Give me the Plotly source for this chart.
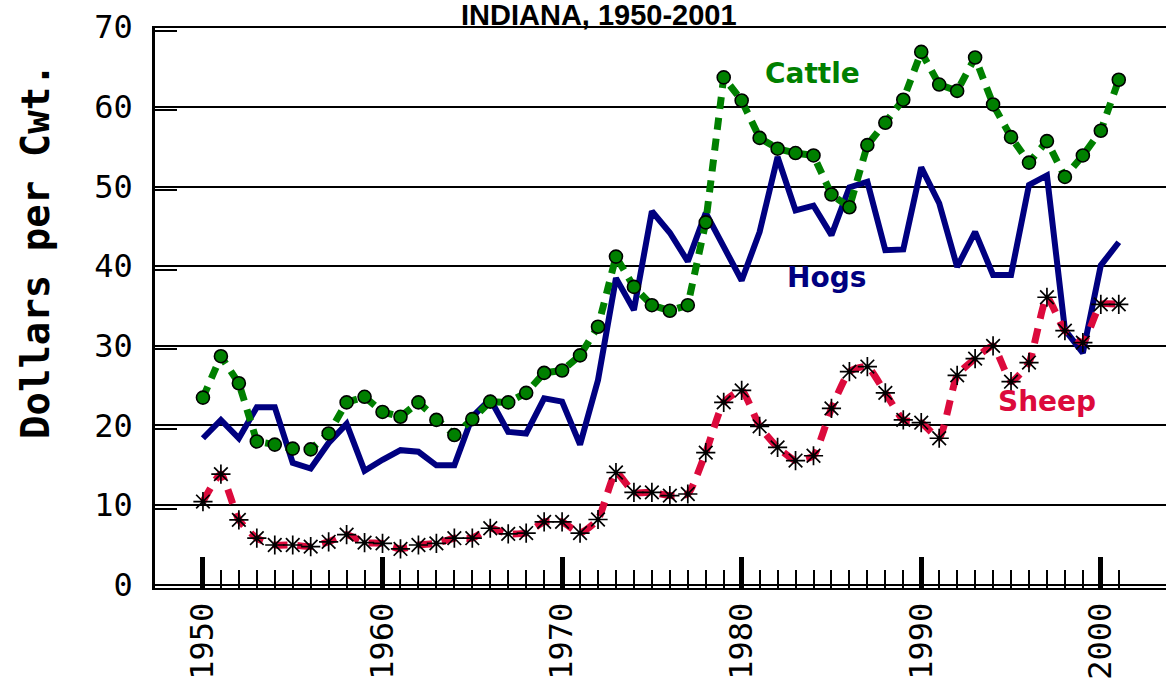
import plotly.graph_objects as go

years = list(range(1950, 2002))

cattle = [23.5, 28.7, 25.3, 18.0, 17.6, 17.1, 17.0, 19.0, 22.9, 23.6,
          21.7, 21.1, 22.9, 20.7, 18.8, 20.8, 23.0, 22.9, 24.1, 26.6,
          26.9, 28.8, 32.4, 41.2, 37.4, 35.1, 34.4, 35.1, 45.5, 63.7,
          60.8, 56.1, 54.75, 54.2, 53.9, 49.0, 47.4, 55.2, 58.0, 60.9,
          66.9, 62.8, 62.0, 66.2, 60.3, 56.2, 53.0, 55.7, 51.2, 53.9,
          57.0, 63.4]

hogs = [18.4, 20.7, 18.4, 22.3, 22.3, 15.3, 14.6, 17.8, 20.2, 14.3,
        15.7, 16.9, 16.7, 15.0, 15.0, 21.1, 23.3, 19.2, 19.0, 23.4,
        23.0, 17.6, 25.7, 38.5, 34.5, 46.9, 44.2, 40.6, 46.7, 42.4,
        38.2, 44.3, 53.7, 47.0, 47.6, 43.9, 49.9, 50.6, 42.0, 42.1,
        52.4, 47.9, 39.9, 44.3, 38.9, 38.9, 50.2, 51.4, 32.0, 29.1,
        40.1, 43.0]

sheep = [10.45, 13.9, 8.15, 5.85, 5.0, 5.0, 4.8, 5.4, 6.3, 5.3,
         5.2, 4.5, 5.0, 5.2, 5.85, 5.85, 7.1, 6.4, 6.5, 7.9,
         7.9, 6.5, 8.2, 14.1, 11.6, 11.6, 11.2, 11.4, 16.6, 22.9,
         24.4, 19.9, 17.25, 15.6, 16.2, 22.15, 26.75, 27.4, 24.1, 20.7,
         20.35, 18.4, 26.3, 28.4, 30.0, 25.5, 27.9, 36.1, 31.9, 30.4,
         35.2, 35.2]

y_ticks = [0, 10, 20, 30, 40, 50, 60, 70]
x_ticks = [1950, 1960, 1970, 1980, 1990, 2000]

GREEN = "#008000"
NAVY = "#000080"
RED = "#DC0A3C"

fig = go.Figure()

fig.add_trace(go.Scatter(
    x=years, y=hogs, mode="lines",
    line=dict(color=NAVY, width=6),
    name="Hogs"))

fig.add_trace(go.Scatter(
    x=years, y=cattle, mode="lines+markers",
    line=dict(color=GREEN, width=7, dash="12px,9px"),
    marker=dict(symbol="circle", size=13, color=GREEN,
                line=dict(color="black", width=1.6)),
    name="Cattle"))

fig.add_trace(go.Scatter(
    x=years, y=sheep, mode="lines+markers",
    line=dict(color=RED, width=7, dash="15px,10px", shape="spline", smoothing=0.5),
    marker=dict(symbol="asterisk-open", size=16, color="black",
                line=dict(color="black", width=1.7)),
    name="Sheep"))

label_font = dict(family="DejaVu Sans", size=28)
fig.add_annotation(x=1983.97, y=64.2, text="<b>Cattle</b>", showarrow=False,
                   font=dict(label_font, color=GREEN), xanchor="center", yanchor="middle")
fig.add_annotation(x=1984.7, y=38.6, text="<b>Hogs</b>", showarrow=False,
                   font=dict(label_font, color=NAVY), xanchor="center", yanchor="middle")
fig.add_annotation(x=1997.0, y=23.0, text="<b>Sheep</b>", showarrow=False,
                   font=dict(label_font, color=RED), xanchor="center", yanchor="middle")

# chart title
fig.add_annotation(x=1972.03, y=70, yshift=-6, text="<b>INDIANA, 1950-2001</b>",
                   showarrow=False, xanchor="center", yanchor="bottom",
                   font=dict(family="Liberation Sans", size=29, color="black"))

# y axis title
fig.add_annotation(xref="paper", yref="paper", x=-0.118, y=0.599,
                   text="<b>Dollars per Cwt.</b>", textangle=-90, showarrow=False,
                   xanchor="center", yanchor="middle",
                   font=dict(family="DejaVu Sans Mono", size=39, color="black"))

fig.update_xaxes(
    range=[1947.33, 2003.63], automargin=False,
    tickmode="array", tickvals=x_ticks, ticktext=[str(v) for v in x_ticks],
    ticks="inside", ticklen=31, tickwidth=5, tickcolor="black",
    tickangle=-90,
    tickfont=dict(family="DejaVu Sans Mono", size=32, color="black"),
    showline=True, linecolor="black", linewidth=2,
    showgrid=False, zeroline=False,
    minor=dict(tickmode="array",
               tickvals=[y for y in years if y % 10 != 0],
               ticks="inside", ticklen=18, tickwidth=1.5, tickcolor="black",
               showgrid=False),
)

fig.update_yaxes(
    range=[-0.4, 70.15], automargin=False,
    tickmode="array", tickvals=y_ticks, ticktext=[str(v) for v in y_ticks],
    ticks="", ticklabelstandoff=13,
    tickfont=dict(family="DejaVu Sans Mono", size=32, color="black"),
    showline=True, linecolor="black", linewidth=2.5,
    showgrid=True, gridcolor="black", gridwidth=2,
    zeroline=False,
    minor=dict(tickmode="array",
               tickvals=[v - 0.42 for v in y_ticks if v > 0],
               ticks="inside", ticklen=22, tickwidth=1.5, tickcolor="black",
               showgrid=False),
)

fig.update_layout(
    width=1166, height=679,
    margin=dict(l=155, r=0, t=26, b=91, pad=0),
    plot_bgcolor="white", paper_bgcolor="white",
    showlegend=False,
)

fig.write_html("out.html",
               config={"displayModeBar": False},
               post_script="document.body.style.margin='0';document.body.style.overflow='hidden';")
